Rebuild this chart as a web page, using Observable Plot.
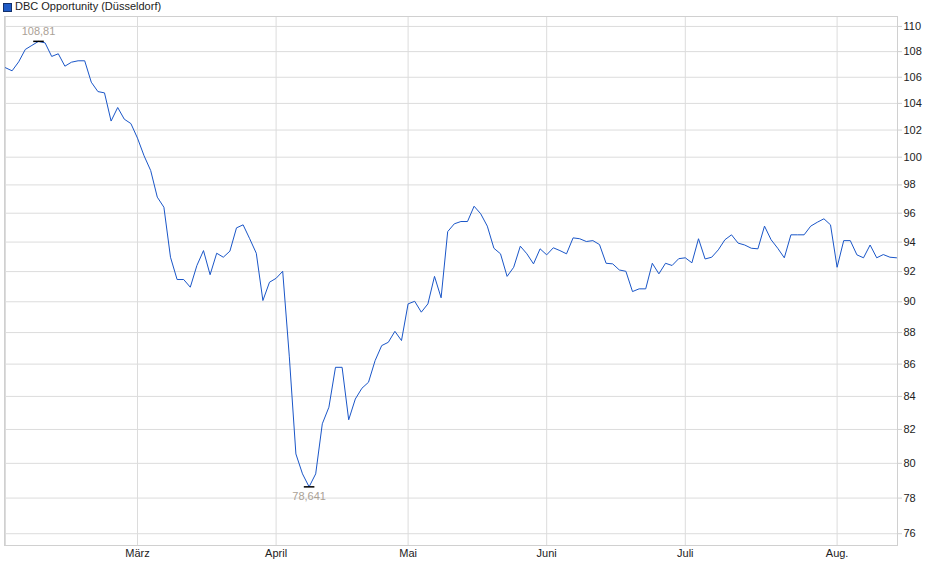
<!DOCTYPE html>
<html>
<head>
<meta charset="utf-8">
<script src="https://cdn.jsdelivr.net/npm/d3@7"></script>
<script src="https://cdn.jsdelivr.net/npm/@observablehq/plot@0.6"></script>
<style>
  html, body { margin: 0; padding: 0; background: #fff; }
  body { width: 940px; height: 579px; overflow: hidden; font-family: "Liberation Sans", Arial, sans-serif; }
  #legend { position: relative; height: 13px; font-size: 11px; color: #222; }
  #legend .sw { position: absolute; left: 3px; top: 3px; width: 7px; height: 7px; background: #1f5bc6; border: 1px solid #13306b; }
  #legend .lbl { position: absolute; left: 15px; top: 0px; line-height: 13px; white-space: nowrap; }
  svg { display: block; }
</style>
</head>
<body>
<div id="legend"><span class="sw"></span><span class="lbl">DBC Opportunity (Düsseldorf)</span></div>
<div id="chart"></div>
<script>
// Trading-day closes, 3 Feb 2025 (index 0) to 14 Aug 2025 (index 135)
const values = [
  106.74, 106.5, 107.2, 108.17, 108.49, 108.81, 108.69, 107.62, 107.83, 106.86,
  107.17, 107.28, 107.28, 105.62, 104.9, 104.8, 102.67, 103.69, 102.81, 102.48,
  101.4, 100.1, 99.03, 97.13, 96.42, 92.97, 91.47, 91.47, 90.96, 92.41,
  93.42, 91.79, 93.24, 92.97, 93.38, 94.98, 95.19, 94.23, 93.24, 90.08,
  91.29, 91.55, 92.02, 86.5, 80.55, 79.39, 78.641, 79.39, 82.34, 83.34,
  85.8, 85.8, 82.58, 83.84, 84.5, 84.87, 86.22, 87.17, 87.38, 88.08,
  87.49, 89.86, 90.03, 89.32, 89.86, 91.68, 90.26, 94.72, 95.26, 95.42,
  95.42, 96.49, 95.96, 95.1, 93.58, 93.2, 91.68, 92.29, 93.72, 93.2,
  92.52, 93.54, 93.13, 93.61, 93.42, 93.2, 94.29, 94.23, 94.04, 94.1,
  93.83, 92.56, 92.52, 92.11, 92.02, 90.67, 90.85, 90.85, 92.56, 91.85,
  92.56, 92.41, 92.87, 92.93, 92.59, 94.23, 92.85, 92.97, 93.47, 94.16,
  94.5, 93.93, 93.8, 93.58, 93.54, 95.1, 94.16, 93.58, 92.93, 94.5,
  94.5, 94.5, 95.1, 95.37, 95.61, 95.19, 92.29, 94.1, 94.1, 93.13,
  92.93, 93.8, 92.93, 93.15, 92.97, 92.93
];
// first trading day of each month (index) and its label
const monthStarts = [0, 20, 41, 61, 82, 103, 126];
const monthLabels = ["", "März", "April", "Mai", "Juni", "Juli", "Aug."];
const yTicks = [76, 78, 80, 82, 84, 86, 88, 90, 92, 94, 96, 98, 100, 102, 104, 106, 108, 110];

const data = values.map((v, i) => ({i, v}));
const maxPt = data.reduce((a, b) => (b.v > a.v ? b : a));
const minPt = data.reduce((a, b) => (b.v < a.v ? b : a));
const fmtDe = (v) => String(v).replace(".", ",");

const chart = Plot.plot({
  width: 940,
  height: 566,
  marginTop: 3,
  marginBottom: 34,
  marginLeft: 4,
  marginRight: 43,
  x: {domain: [-0.15, 135.15], label: null},
  y: {type: "log", domain: [75.35, 110.8], label: null},
  style: {fontFamily: "'Liberation Sans', Arial, sans-serif", fontSize: "11px", background: "white", color: "#222"},
  marks: [
    Plot.gridY(yTicks, {stroke: "#dcdcdc", strokeOpacity: 1}),
    Plot.gridX(monthStarts, {stroke: "#dcdcdc", strokeOpacity: 1}),
    Plot.frame({stroke: "#d0d0d0"}),
    Plot.axisY(yTicks, {anchor: "right", label: null, tickSize: 4, tickPadding: 2, stroke: "#cfcfcf", fill: "#222", tickFormat: (d) => String(d)}),
    Plot.axisX(monthStarts.slice(1), {anchor: "bottom", label: null, tickSize: 0, tickPadding: 4, fill: "#222",
      tickFormat: (d) => monthLabels[monthStarts.indexOf(d)]}),
    Plot.line(data, {x: "i", y: "v", stroke: "#1a56c8", strokeWidth: 1}),
    Plot.link([maxPt, minPt], {x1: (d) => d.i - 0.8, x2: (d) => d.i + 0.8, y1: "v", y2: "v", stroke: "#000", strokeWidth: 1.5}),
    Plot.text([maxPt], {x: "i", y: "v", text: (d) => fmtDe(d.v), dy: -10, fill: "#aaa196", fontSize: 11}),
    Plot.text([minPt], {x: "i", y: "v", text: (d) => fmtDe(d.v), dy: 10, fill: "#aaa196", fontSize: 11})
  ]
});
document.getElementById("chart").appendChild(chart);
</script>
</body>
</html>
